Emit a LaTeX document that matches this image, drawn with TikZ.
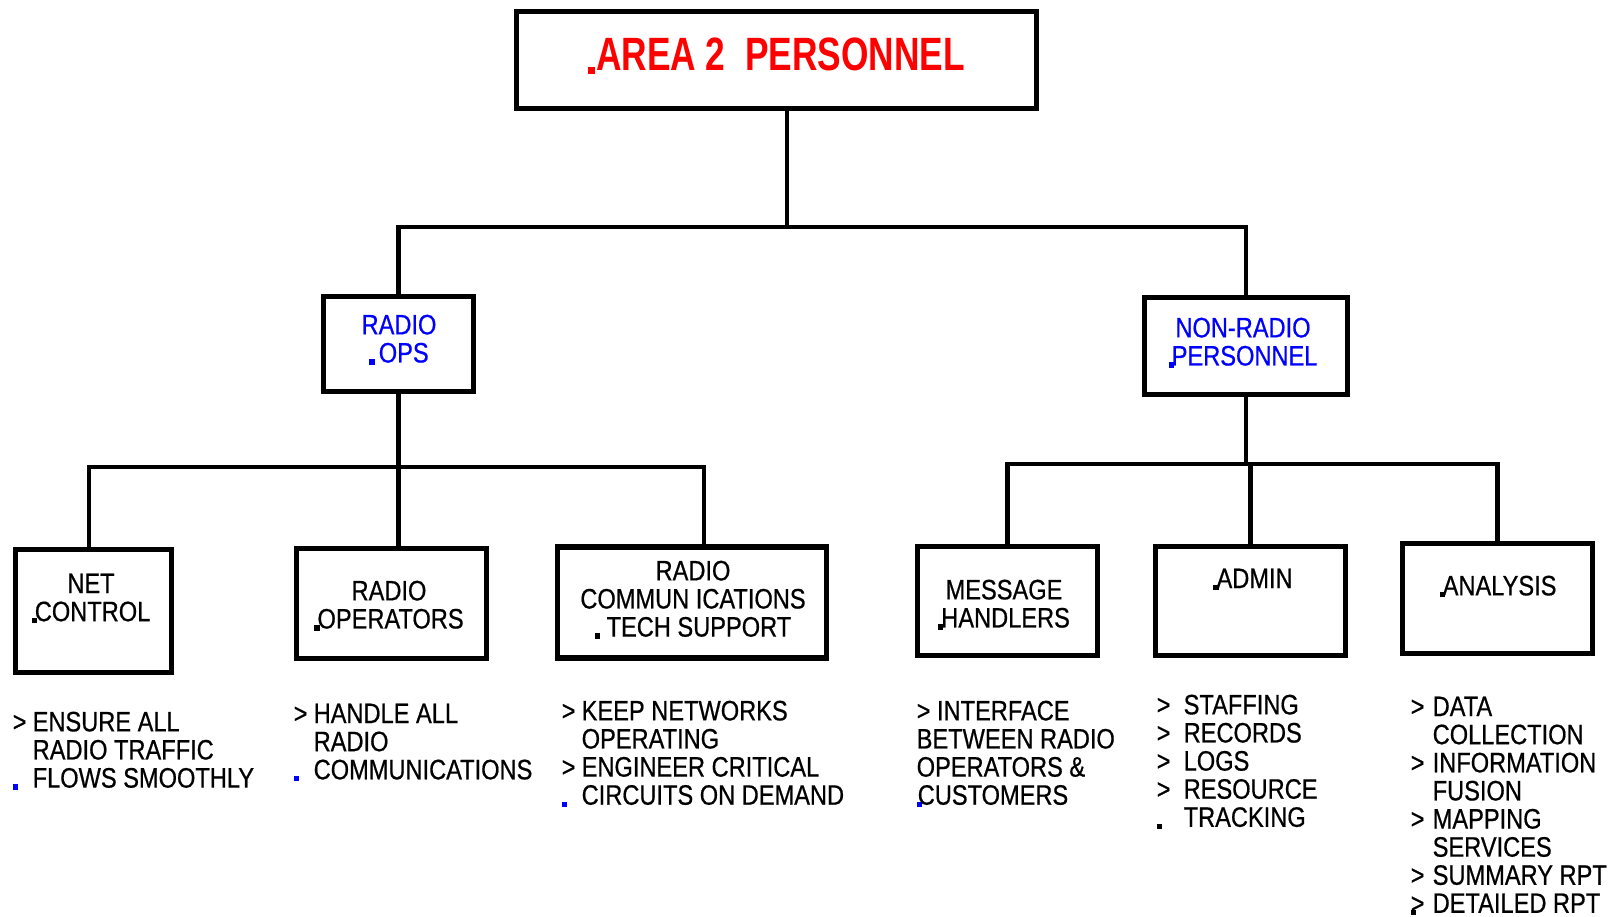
\documentclass[tikz,border=0pt]{standalone}
\usepackage{fontspec}
\setmainfont{Liberation Sans}[FakeStretch=0.84, FakeBold=0.6]
\newfontfamily\titlefont{Liberation Sans Bold}[FakeStretch=0.755]
\newcommand{\gtb}[1][2mm]{\makebox[#1][l]{>}}
\newcommand{\gsp}[1][2mm]{\hspace*{#1}}
\newcommand{\sq}{\rule[-0.6pt]{1.5pt}{1.5pt}}
\newcommand{\gdot}[2][2mm]{\makebox[#1][l]{\color{#2}\sq}}

\begin{document}
\begin{tikzpicture}[
x=0.1mm, y=-0.1mm,
box/.style={draw, line width=1.5pt, inner sep=0pt},
tree/.style={line width=1.35pt},
lbl/.style={align=center, inner sep=0pt, anchor=north, font=\fontsize{8}{8}\selectfont},
ttl/.style={inner sep=0pt, anchor=north, text=red, font=\titlefont\fontsize{13.3}{14}\selectfont},
desc/.style={align=left, inner sep=0pt, anchor=north west, font=\fontsize{8}{8}\selectfont}
]
\useasboundingbox (0,0) rectangle (1621,916);
\node[box, minimum width=52mm, minimum height=9.7mm] (area) at (776.5,60) {};
\node[box, minimum width=15mm, minimum height=9.5mm] (radops) at (398.5,344) {};
\node[box, minimum width=20.3mm, minimum height=9.7mm] (nonr) at (1246,346) {};
\node[box, minimum width=15.6mm, minimum height=12.3mm] (netc) at (93.5,611) {};
\node[box, minimum width=19mm, minimum height=11mm] (radop) at (391.5,603.5) {};
\node[box, minimum width=26.9mm, minimum height=11.1mm] (radcomm) at (692,602.5) {};
\node[box, minimum width=18mm, minimum height=10.9mm] (msgh) at (1007.5,601) {};
\node[box, minimum width=19mm, minimum height=10.9mm] (admin) at (1250.5,601) {};
\node[box, minimum width=19mm, minimum height=11mm] (anal) at (1497.5,598.5) {};

\node[ttl] (areat) at (776.5,37.5) {\rule[-0.8pt]{2pt}{2pt}\kern0.3pt AREA~2~~PERSONNEL};
\node[lbl, text=blue] (radopst) at (399,314) {RADIO\\\sq\kern1.2pt OPS};
\node[lbl, text=blue] (nonrt) at (1243,317) {NON-RADIO\\\sq\kern-0.6pt PERSONNEL};
\node[lbl] (netct) at (91,573) {NET\\\sq\kern-0.6pt CONTROL};
\node[lbl] (radopt) at (389,580) {RADIO\\\sq\kern-0.6pt OPERATORS};
\node[lbl] (radcommt) at (693,560) {RADIO\\COMMUN ICATIONS\\\sq\ TECH SUPPORT};
\node[lbl] (msght) at (1004,579) {MESSAGE\\\sq\kern-0.6pt HANDLERS};
\node[lbl] (admint) at (1253,568) {\sq\kern-0.6pt ADMIN};
\node[lbl] (analt) at (1498,575) {\sq\kern-0.6pt ANALYSIS};

\node[desc] (netd) at (12,711) {\gtb ENSURE ALL\\ \gsp RADIO TRAFFIC\\ \gdot{blue}FLOWS SMOOTHLY};
\node[desc] (radopd) at (293,703) {\gtb HANDLE ALL\\ \gsp RADIO\\ \gdot{blue}COMMUNICATIONS};
\node[desc] (radcommd) at (561,700) {\gtb KEEP NETWORKS\\ \gsp OPERATING\\ \gtb ENGINEER CRITICAL\\ \gdot{blue}CIRCUITS ON DEMAND};
\node[desc] (msgd) at (916,700) {> INTERFACE\\BETWEEN RADIO\\OPERATORS \&\\{\color{blue}\sq}\kern-1.2pt CUSTOMERS};
\node[desc] (admind) at (1156,694) {\gtb[2.7mm]STAFFING\\ \gtb[2.7mm]RECORDS\\ \gtb[2.7mm]LOGS\\ \gtb[2.7mm]RESOURCE\\ \gdot[2.7mm]{black}TRACKING};
\node[desc] (anald) at (1410,696) {\gtb[2.2mm]DATA\\ \gsp[2.2mm]COLLECTION\\ \gtb[2.2mm]INFORMATION\\ \gsp[2.2mm]FUSION\\ \gtb[2.2mm]MAPPING\\ \gsp[2.2mm]SERVICES\\ \gtb[2.2mm]SUMMARY RPT\\ \makebox[2.2mm][l]{\rlap{\sq}>}DETAILED RPT};

\coordinate (bus1) at (0,227);
\coordinate (bus2) at (0,467);
\coordinate (bus3) at (0,464);
\coordinate (areastem) at ([xshift=1.05mm]area.south);
\coordinate (netstem) at ([xshift=-0.45mm]netc.north);
\coordinate (rcstem) at ([xshift=1.2mm]radcomm.north);
\draw[tree] (areastem) -- (areastem |- bus1);
\draw[tree] (radops.north) |- (bus1 -| nonr.north) -- (nonr.north);
\draw[tree] (radops.south) -- (radops.south |- radop.north);
\draw[tree] (netstem) |- (bus2 -| rcstem) -- (rcstem);
\draw[tree] (nonr.south) -- (nonr.south |- bus3);
\draw[tree] (msgh.north) |- (bus3 -| anal.north) -- (anal.north);
\draw[tree] (admin.north) -- (admin.north |- bus3);
\end{tikzpicture}
\end{document}
